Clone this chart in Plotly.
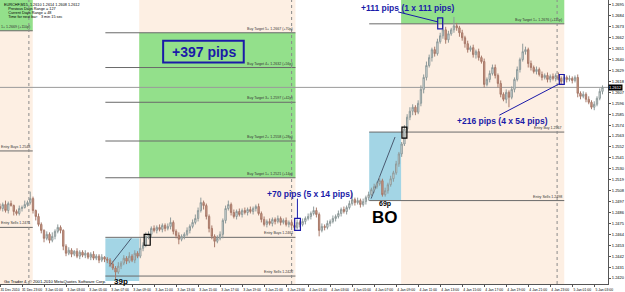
import plotly.graph_objects as go

BASE = 1.2400
PIP = 0.0001

# ---- candle data (M15), prices as pips above 1.2400 ----
first_open_pips = 92
close_pips = [
    90, 94, 88, 95, 93, 87, 85, 90, 91, 94, 96, 100, 88, 82, 74, 68, 60, 64, 58, 62,
    67, 71, 68, 52, 45, 48, 44, 47, 42, 46, 43, 45, 41, 44, 40, 42, 38, 41, 39, 38,
    34, 30, 26, 32, 35, 40, 37, 42, 38, 45, 42, 50, 53, 62, 64, 70, 68, 71, 69, 73,
    70, 72, 76, 67, 63, 59, 62, 64, 68, 72, 76, 80, 88, 96, 93, 82, 70, 62, 57, 60,
    64, 78, 90, 94, 86, 82, 87, 84, 88, 86, 89, 87, 90, 92, 85, 79, 74, 77, 75, 79,
    77, 80, 76, 78, 74, 76, 73, 71, 76, 74, 77, 80, 82, 85, 88, 84, 68, 72, 71, 75,
    77, 80, 82, 85, 89, 87, 91, 95, 99, 96, 98, 94, 97, 101, 104, 109, 112, 115, 118, 104,
    108, 114, 120, 126, 135, 145, 155, 170, 182, 188, 192, 187, 196, 210, 222, 234, 242, 250, 246, 258,
    264, 270, 260, 266, 270, 274, 272, 267, 262, 256, 250, 252, 245, 248, 242, 238, 215, 220, 226, 232,
    224, 216, 205, 200, 207, 202, 210, 220, 230, 240, 248, 250, 236, 232, 228, 230, 225, 222, 224, 220,
    223, 221, 224, 221, 218, 222, 220, 221, 219, 222, 206, 203, 205, 200, 197, 192, 195, 201, 208, 212,
]
wick_up = [
    3, 2, 4, 2, 3, 1, 2, 3, 2, 4, 2, 7, 2, 1, 3, 2, 1, 3, 2, 4,
    2, 3, 2, 1, 2, 3, 2, 1, 3, 2, 2, 3, 1, 2, 3, 2, 2, 3, 1, 2,
    2, 3, 2, 4, 2, 3, 2, 4, 2, 3, 2, 10, 3, 4, 3, 2, 3, 2, 3, 2,
    2, 3, 5, 2, 2, 3, 2, 2, 3, 2, 3, 4, 3, 5, 2, 2, 2, 3, 2, 3,
    3, 2, 3, 4, 2, 3, 2, 3, 2, 3, 2, 3, 2, 2, 3, 2, 3, 2, 3, 2,
    2, 3, 2, 2, 3, 2, 3, 2, 3, 2, 3, 2, 3, 2, 4, 3, 2, 3, 2, 3,
    2, 3, 2, 3, 2, 3, 2, 3, 7, 2, 3, 2, 3, 2, 3, 2, 3, 2, 4, 2,
    3, 2, 3, 2, 3, 2, 2, 4, 3, 4, 3, 2, 3, 4, 3, 4, 3, 2, 3, 3,
    3, 12, 3, 3, 2, 9, 3, 2, 3, 2, 3, 2, 3, 2, 3, 2, 3, 2, 3, 3,
    3, 2, 3, 2, 3, 2, 3, 2, 3, 2, 8, 3, 2, 3, 2, 3, 2, 3, 2, 3,
    2, 3, 2, 3, 2, 3, 2, 3, 2, 2, 3, 2, 3, 2, 3, 2, 3, 2, 3, 2,
]
wick_dn = [
    2, 3, 2, 3, 1, 4, 2, 2, 3, 1, 2, 2, 3, 4, 2, 3, 4, 2, 3, 2,
    3, 2, 3, 4, 3, 2, 3, 2, 2, 3, 2, 3, 2, 3, 2, 2, 3, 2, 3, 3,
    3, 2, 7, 2, 3, 2, 3, 2, 2, 3, 2, 2, 3, 2, 3, 3, 2, 3, 2, 3,
    3, 2, 3, 3, 3, 5, 2, 3, 2, 3, 2, 2, 3, 2, 4, 3, 4, 3, 6, 2,
    2, 4, 3, 2, 3, 2, 3, 2, 3, 2, 3, 2, 3, 3, 2, 3, 2, 3, 2, 3,
    3, 2, 3, 2, 2, 3, 2, 3, 2, 3, 2, 3, 2, 3, 2, 3, 6, 2, 3, 2,
    3, 2, 3, 2, 3, 2, 3, 2, 2, 3, 2, 3, 2, 3, 3, 2, 3, 2, 2, 2,
    2, 3, 2, 3, 2, 3, 3, 2, 4, 3, 4, 3, 2, 3, 4, 3, 2, 4, 3, 2,
    2, 3, 4, 3, 2, 3, 3, 4, 3, 4, 3, 2, 3, 4, 3, 2, 3, 2, 3, 2,
    3, 4, 3, 2, 4, 10, 2, 3, 2, 3, 2, 3, 4, 3, 2, 3, 2, 3, 2, 3,
    3, 2, 3, 2, 3, 2, 3, 2, 3, 2, 4, 3, 2, 3, 2, 2, 3, 2, 2, 3,
]

time_tick_idx = list(range(0, 217, 8))
time_tick_text = [
    "31 Dec 2010", "31 Dec 23:00", "3 Jan 01:00", "3 Jan 03:00", "3 Jan 05:00",
    "3 Jan 07:00", "3 Jan 09:00", "3 Jan 11:00", "3 Jan 13:00", "3 Jan 15:00",
    "3 Jan 17:00", "3 Jan 19:00", "3 Jan 21:00", "3 Jan 23:00", "4 Jan 01:00",
    "4 Jan 03:00", "4 Jan 05:00", "4 Jan 07:00", "4 Jan 09:00", "4 Jan 11:00",
    "4 Jan 13:00", "4 Jan 15:00", "4 Jan 17:00", "4 Jan 19:00", "4 Jan 21:00",
    "4 Jan 23:00", "5 Jan 01:00", "5 Jan 03:00",
]
price_ticks = [1.2695, 1.2684, 1.2673, 1.2662, 1.2651, 1.2640, 1.2629, 1.2618, 1.2607,
               1.2596, 1.2585, 1.2574, 1.2563, 1.2552, 1.2541, 1.2530, 1.2519, 1.2508,
               1.2497, 1.2486, 1.2475, 1.2464, 1.2453, 1.2442, 1.2431, 1.2420]

# session levels (prices)
left_levels = [1.2669, 1.2548, 1.2471]
left_labels = ["1+ 1.2669 (+110p)", "Entry Buys 1.2548", "Entry Sells 1.2471"]
jan3_levels = [1.2667, 1.2632, 1.2597, 1.2558, 1.2521, 1.2461, 1.2422]
jan3_labels = ["Buy Target 5+ 1.2667 (+70p)", "Buy Target 4+ 1.2632 (+56p)",
               "Buy Target 3+ 1.2597 (+42p)", "Buy Target 2+ 1.2558 (+28p)",
               "Buy Target 1+ 1.2521 (+14p)", "Entry Buys 1.2461", "Entry Sells 1.2422"]
jan4_levels = [1.2676, 1.2567, 1.2498]
jan4_labels = ["Buy Target 1+ 1.2676 (+111p)", "Entry Buy 1.2567", "Entry Sells 1.2498"]
jan3_range = (1.2417, 1.2460)
jan4_range = (1.2498, 1.2567)

# ---- build OHLC ----
n = len(close_pips)
bars = list(range(n))
opens_p = [first_open_pips] + close_pips[:-1]
o = [BASE + p * PIP for p in opens_p]
c = [BASE + p * PIP for p in close_pips]
h = [BASE + (max(a, b) + u) * PIP for a, b, u in zip(opens_p, close_pips, wick_up)]
l = [BASE + (min(a, b) - d) * PIP for a, b, d in zip(opens_p, close_pips, wick_dn)]
last_price = c[-1]

YMIN, YMAX = 1.2414, 1.2700
XMIN, XMAX = 0, 221

PEACH = "#fdefe3"
GREEN = "#93e08b"
BLUE = "#a3d5e5"
LINE = "#6a6a6a"
TXTBLUE = "#1a1aa8"
FONT = "Liberation Sans, Arial, sans-serif"

fig = go.Figure()
fig.add_trace(go.Candlestick(
    x=bars, open=o, high=h, low=l, close=c,
    increasing=dict(line=dict(color="#8e9a9a", width=1), fillcolor="#e6ecec"),
    decreasing=dict(line=dict(color="#a87a6a", width=1), fillcolor="#cf9c88"),
    whiskerwidth=0, hoverinfo="skip", showlegend=False))

shapes = []
anns = []


def rect(x0, x1, y0, y1, fill=None, line=None, lw=0, layer="below"):
    shapes.append(dict(type="rect", xref="x", yref="y", x0=x0, x1=x1, y0=y0, y1=y1,
                       fillcolor=fill if fill else "rgba(0,0,0,0)",
                       line=dict(color=line if line else "rgba(0,0,0,0)", width=lw),
                       layer=layer))


def seg(x0, y0, x1, y1, color=LINE, width=1, dash="solid", layer="below"):
    shapes.append(dict(type="line", xref="x", yref="y", x0=x0, x1=x1, y0=y0, y1=y1,
                       line=dict(color=color, width=width, dash=dash), layer=layer))


def txt(x, y, s, size=3.6, color="#333333", xanchor="center", yanchor="middle", bold=False):
    anns.append(dict(x=x, y=y, xref="x", yref="y", text=("<b>%s</b>" % s) if bold else s,
                     showarrow=False, xanchor=xanchor, yanchor=yanchor,
                     font=dict(size=size, color=color, family=FONT)))


# backgrounds
rect(XMIN, 11.9, YMIN, YMAX, PEACH)
rect(XMIN, 11.9, left_levels[0], YMAX, GREEN)
rect(50.6, 107.4, YMIN, YMAX, PEACH)
rect(50.6, 107.4, jan3_levels[4], jan3_levels[0], GREEN)
rect(38.3, 50.6, jan3_range[0], jan3_range[1], BLUE)
rect(145.8, 205.1, YMIN, YMAX, PEACH)
rect(145.8, 205.1, jan4_levels[0], YMAX, GREEN)
rect(134.2, 145.8, jan4_range[0], jan4_range[1], BLUE)

# bid line
seg(XMIN, last_price, XMAX, last_price, color="#9a9a9a")

# level lines + labels
for lv, lb in zip(left_levels, left_labels):
    seg(XMIN, lv, 11.9, lv)
    txt(11.6, lv, lb, xanchor="right", yanchor="bottom")
for lv, lb in zip(jan3_levels, jan3_labels):
    seg(38.3, lv, 107.4, lv)
    txt(107.2, lv, lb, xanchor="right", yanchor="bottom")
for lv, lb in zip(jan4_levels, jan4_labels):
    seg(134.2, lv, 205.1, lv)
    txt(204.9, lv, lb, xanchor="right", yanchor="bottom")

# dotted session verticals
for xv in (10.5, 106.0, 202.5):
    seg(xv, YMIN, xv, YMAX, color="#8a8a8a", dash="dot")

# thin diagonal lines inside range boxes
seg(39.8, 1.2432, 47.7, 1.2460, color="#4a5a70")
seg(134.9, 1.2500, 143.6, 1.2562, color="#4a5a70")

# markers
rect(52.4, 54.6, 1.2453, 1.2464, line="#000000", lw=1.2, layer="above")
rect(107.1, 109.2, 1.2468, 1.2480, line=TXTBLUE, lw=1.2, layer="above")
rect(146.1, 147.9, 1.2561, 1.2572, line="#000000", lw=1.2, layer="above")
rect(159.1, 160.9, 1.2671, 1.2682, line=TXTBLUE, lw=1.2, layer="above")
rect(203.3, 205.1, 1.2615, 1.2625, line=TXTBLUE, lw=1.2, layer="above")
rect(59.3, 88.6, 1.2637, 1.2659, line=TXTBLUE, lw=2, layer="above")

# callout lines
seg(108.1, 1.2500, 108.1, 1.2480, color=TXTBLUE, layer="above")
seg(144.7, 1.2688, 159.1, 1.2678, color=TXTBLUE, layer="above")
seg(181.5, 1.2584, 203.6, 1.2616, color=TXTBLUE, layer="above")

# callout texts
txt(74.0, 1.2648, "+397 pips", size=14, color=TXTBLUE, bold=True)
txt(112.8, 1.2505, "+70 pips (5 x 14 pips)", size=8.5, color=TXTBLUE, bold=True)
txt(148.3, 1.2692, "+111 pips (1 x 111 pips)", size=8.5, color=TXTBLUE, bold=True)
txt(182.5, 1.2578, "+216 pips (4 x 54 pips)", size=8.5, color=TXTBLUE, bold=True)
txt(140.0, 1.2495, "69p", size=7, color="#000000", bold=True)
txt(140.0, 1.2481, "BO", size=17, color="#000000", bold=True)
txt(43.8, 1.2417, "39p", size=8, color="#000000", bold=True)
txt(0.7, 1.2417, "Go Trader 4, © 2001-2010 MetaQuotes Software Corp.", size=4.2,
    color="#000000", xanchor="left")

# info text top-left
info_lines = ["EURCHF,M15  1.2610 1.2614 1.2608 1.2612",
              "    Previous Days Range = 127",
              "    Current Days Range = 48",
              "    Time for next bar:   3 min 15 sec"]
for k, s in enumerate(info_lines):
    anns.append(dict(x=0.004, y=1 - 0.004 - k * 0.0145, xref="paper", yref="paper",
                     text=s, showarrow=False, xanchor="left", yanchor="top",
                     font=dict(size=3.8, color="#000000", family=FONT)))

# current price tag
anns.append(dict(x=1, y=last_price, xref="paper", yref="y", text="%.4f" % last_price,
                 showarrow=False, xanchor="left", yanchor="middle", bgcolor="#000000",
                 borderpad=0, font=dict(size=4, color="#ffffff", family=FONT)))

fig.update_layout(
    width=625, height=292, margin=dict(l=0, r=14, t=0, b=6),
    paper_bgcolor="#ffffff", plot_bgcolor="#ffffff",
    shapes=shapes, annotations=anns, showlegend=False,
    xaxis=dict(range=[XMIN, XMAX], rangeslider=dict(visible=False), showgrid=False,
               zeroline=False, tickmode="array", tickvals=time_tick_idx,
               ticktext=time_tick_text, ticks="outside", ticklen=2, tickcolor="#555",
               tickangle=0,
               tickfont=dict(size=3.4, color="#000000", family=FONT),
               ticklabelshift=10, ticklabelstandoff=0,
               showline=True, linecolor="#555555", linewidth=1),
    yaxis=dict(range=[YMIN, YMAX], side="right", showgrid=False, zeroline=False,
               tickmode="array", tickvals=price_ticks,
               ticktext=["%.4f" % v for v in price_ticks], ticks="outside", ticklen=2,
               tickcolor="#555", tickfont=dict(size=4, color="#000000", family=FONT),
               ticklabelstandoff=0,
               showline=True, linecolor="#555555", linewidth=1),
)

fig.write_html("out.html")
